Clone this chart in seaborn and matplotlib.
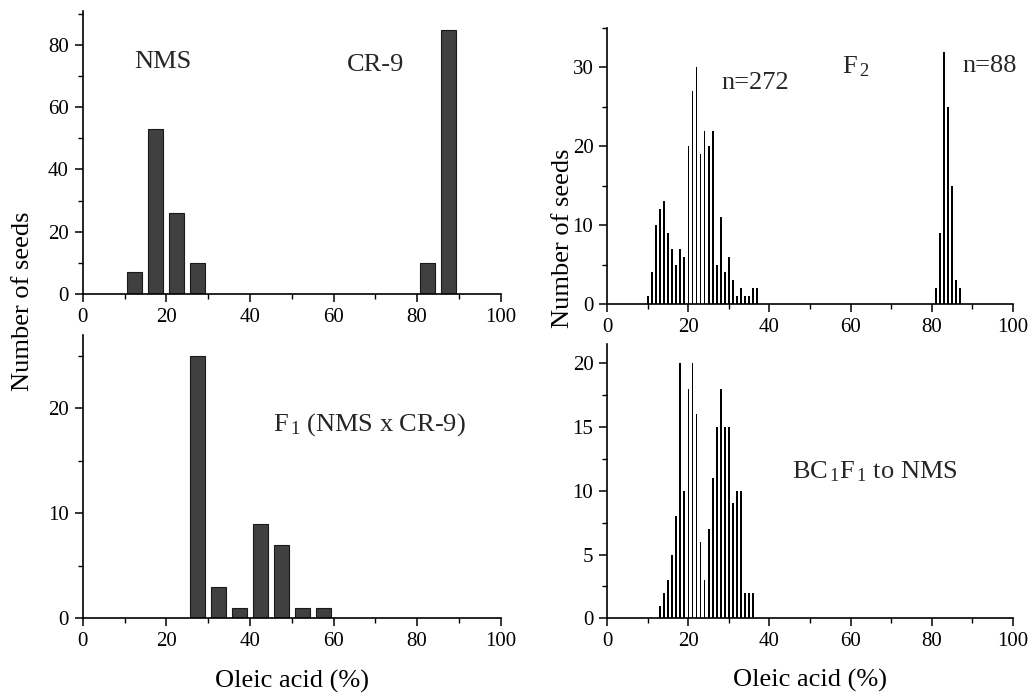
import numpy as np
import pandas as pd
import matplotlib
matplotlib.use("Agg")
import matplotlib.pyplot as plt
from matplotlib.ticker import MultipleLocator, FuncFormatter
import seaborn as sns

# Parental lines (5 % classes)
parent_x = [12.5, 17.5, 22.5, 27.5, 82.5, 87.5]
parent_n = [7, 53, 26, 10, 10, 85]

# F1 (NMS x CR-9)
f1_x = [27.5, 32.5, 37.5, 42.5, 47.5, 52.5, 57.5]
f1_n = [25, 3, 1, 9, 7, 1, 1]

# F2 (1 % classes), low-oleic group (n=272) and high-oleic group (n=88)
f2_x = list(range(10, 38)) + list(range(81, 88))
f2_n = [1, 4, 10, 12, 13, 9, 7, 5, 7, 6, 20, 27, 30, 19, 22, 20, 22, 5, 11, 4,
        6, 3, 1, 2, 1, 1, 2, 2,
        2, 9, 32, 25, 15, 3, 2]

# BC1F1 to NMS (1 % classes)
bc_x = list(range(13, 37))
bc_n = [1, 2, 3, 5, 8, 20, 10, 18, 20, 16, 6, 3, 7, 11, 15, 18, 15, 15, 9, 10,
        10, 2, 2, 2]

sns.set_theme(style="ticks")
plt.rcParams["font.family"] = ["Liberation Serif", "DejaVu Serif"]
plt.rcParams["mathtext.fontset"] = "custom"
plt.rcParams["mathtext.rm"] = "Liberation Serif"
plt.rcParams["mathtext.it"] = "Liberation Serif:italic"
plt.rcParams["mathtext.bf"] = "Liberation Serif:bold"

W, H = 1031, 693
fig = plt.figure(figsize=(W / 100, H / 100), dpi=100)


def px_rect(x0, x1, ytop, ybot):
    return [x0 / W, 1 - ybot / H, (x1 - x0) / W, (ybot - ytop) / H]


ax_tl = fig.add_axes(px_rect(82.7, 500.7, 11, 293.7))
ax_bl = fig.add_axes(px_rect(82.7, 500.7, 335, 618))
ax_tr = fig.add_axes(px_rect(607.3, 1012.7, 28, 304))
ax_br = fig.add_axes(px_rect(607.3, 1012.7, 344, 618.3))

TICK_FS = 15
LABEL_FS = 19
NOTE_FS = 19


def draw(ax, xs, ns, width, face, edge, lw, crisp=False):
    df = pd.DataFrame({"oleic": xs, "seeds": ns})
    sns.barplot(data=df, x="oleic", y="seeds", native_scale=True, width=width,
                color=face, saturation=1, edgecolor=edge, linewidth=lw,
                errorbar=None, ax=ax)
    if crisp:
        for p in ax.patches:
            p.set_antialiased(False)


draw(ax_tl, parent_x, parent_n, 0.72, "#404040", "#1a1a1a", 0.8)
draw(ax_bl, f1_x, f1_n, 0.72, "#404040", "#1a1a1a", 0.8)
draw(ax_tr, f2_x, f2_n, 0.42, "black", "none", 0, crisp=True)
draw(ax_br, bc_x, bc_n, 0.42, "black", "none", 0, crisp=True)

ylims = [(ax_tl, 91, 20, 10), (ax_bl, 27, 10, 5),
         (ax_tr, 35, 10, 5), (ax_br, 21.5, 5, 2.5)]
for ax, ytop, ymaj, ymin in ylims:
    ax.set_xlim(0, 100)
    ax.set_ylim(0, ytop)
    ax.xaxis.set_major_locator(MultipleLocator(20))
    ax.xaxis.set_minor_locator(MultipleLocator(10))
    ax.yaxis.set_major_locator(MultipleLocator(ymaj))
    ax.yaxis.set_minor_locator(MultipleLocator(ymin))
    ax.xaxis.set_major_formatter(FuncFormatter(lambda v, p: f"{v:g}"))
    ax.yaxis.set_major_formatter(FuncFormatter(lambda v, p: f"{v:g}"))
    sns.despine(ax=ax)
    for s in ("left", "bottom"):
        ax.spines[s].set_linewidth(1.2)
        ax.spines[s].set_color("black")
    ax.tick_params(which="major", direction="out", length=6, width=1.1,
                   color="black", labelsize=TICK_FS, labelcolor="black", pad=4)
    ax.tick_params(which="minor", direction="out", length=3.5, width=1.0,
                   color="black")
    ax.set_xlabel("")
    ax.set_ylabel("")
    ax.set_facecolor("white")
    ax.grid(False)

# Axis titles
for ax in (ax_bl, ax_br):
    ax.set_xlabel("Oleic acid (%)", fontsize=LABEL_FS, color="black")
    ax.xaxis.set_label_coords(0.5, (618.3 - 680) / 274.3)
    ax.xaxis.label.set_va("center")

fig.text(23 / W, 1 - 301.7 / H, "Number of seeds", rotation=90,
         ha="center", va="center", fontsize=LABEL_FS, color="black")
fig.text(563 / W, 1 - 238 / H, "Number of seeds", rotation=90,
         ha="center", va="center", fontsize=LABEL_FS, color="black")

# Panel annotations
ax_tl.text(12.3, 72.6, "NMS", fontsize=NOTE_FS, ha="left", va="baseline")
ax_tl.text(63.2, 71.7, "CR-9", fontsize=NOTE_FS, ha="left", va="baseline")
ax_bl.text(45.6, 17.9, r"F$_{\,1}$ (NMS x CR-9)", fontsize=NOTE_FS,
           ha="left", va="baseline")
ax_tr.text(28.1, 27.3, "n=272", fontsize=NOTE_FS, ha="left", va="baseline")
ax_tr.text(57.8, 29.2, r"F$_{\,2}$", fontsize=NOTE_FS, ha="left", va="baseline")
ax_tr.text(87.7, 29.4, "n=88", fontsize=NOTE_FS, ha="left", va="baseline")
ax_br.text(45.5, 11.0, r"BC$_{\,1}$F$_{\,1}$ to NMS", fontsize=NOTE_FS,
           ha="left", va="baseline")

fig.savefig("out.png", dpi=100, facecolor="white")
